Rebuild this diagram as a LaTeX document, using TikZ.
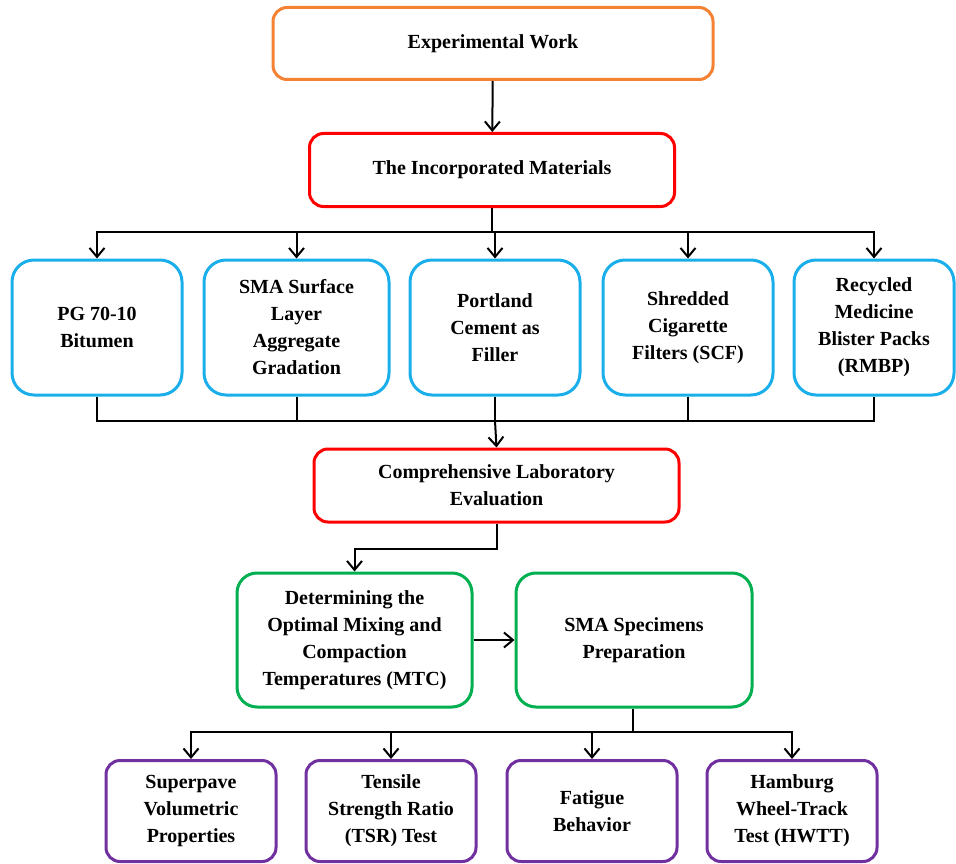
\documentclass[tikz,border=0pt]{standalone}
\usepackage{fontspec}
\setmainfont{Liberation Serif}
\usetikzlibrary{arrows.meta}
\definecolor{wOrange}{HTML}{F58232}
\definecolor{wRed}{HTML}{FF0000}
\definecolor{wBlue}{HTML}{1AAFEA}
\definecolor{wGreen}{HTML}{00B050}
\definecolor{wPurple}{HTML}{7030A0}
\tikzset{
  >={Straight Barb[length=9pt,width=15pt,line width=2pt]},
  block/.style={rectangle, rounded corners=14pt, draw, line width=3pt, align=center,
    inner sep=2pt, font=\fontsize{20}{27}\selectfont\bfseries},
  topbox/.style={block, draw=wOrange, minimum width=440pt, minimum height=72pt},
  redbox/.style={block, draw=wRed, minimum height=73pt},
  bluebox/.style={block, draw=wBlue, rounded corners=22pt, minimum width=170pt, minimum height=135pt},
  greenbox/.style={block, draw=wGreen, rounded corners=20pt, minimum height=134pt},
  purplebox/.style={block, draw=wPurple, minimum width=170pt, minimum height=101pt},
  link/.style={line width=2pt},
}
\begin{document}
\begin{tikzpicture}[x=1pt, y=-1pt]
  \useasboundingbox (0,0) rectangle (956,864);
  \node[topbox] (work) at (493,43.5) {Experimental Work};
  \node[redbox, minimum width=365pt] (mats) at (492,170) {The Incorporated Materials};
  % materials
  \node[bluebox] (pg) at (97,327.5) {PG 70-10\\Bitumen};
  \node[bluebox, minimum width=185pt] (sma) at (296.5,327.5) {SMA Surface\\Layer\\Aggregate\\Gradation};
  \node[bluebox] (cem) at (495,327.5) {Portland\\Cement as\\Filler};
  \node[bluebox] (scf) at (688,327.5) {Shredded\\Cigarette\\Filters (SCF)};
  \node[bluebox, minimum width=160pt] (rmbp) at (874,327.5) {Recycled\\Medicine\\Blister Packs\\(RMBP)};
  \node[redbox, minimum width=365pt] (lab) at (496.5,485.5) {Comprehensive Laboratory\\Evaluation};
  \node[greenbox, minimum width=235pt] (mtc) at (354.5,640) {Determining the\\Optimal Mixing and\\Compaction\\Temperatures (MTC)};
  \node[greenbox, minimum width=236pt] (prep) at (634,640) {SMA Specimens\\Preparation};
  % tests
  \node[purplebox] (vol) at (191,811) {Superpave\\Volumetric\\Properties};
  \node[purplebox] (tsr) at (391,811) {Tensile\\Strength Ratio\\(TSR) Test};
  \node[purplebox] (fat) at (592,811) {Fatigue\\Behavior};
  \node[purplebox] (hwtt) at (792,811) {Hamburg\\Wheel-Track\\Test (HWTT)};
  \coordinate (busA) at (492,232);
  \coordinate (busB) at (495,421);
  \coordinate (busC) at (633,732);
  \draw[link, ->] (work) -- (mats);
  \draw[link] (mats) -- (busA);
  \foreach \m in {pg,sma,cem,scf,rmbp} {
    \draw[link, ->] (busA) -| (\m.north);
    \draw[link] (\m.south) |- (busB);
  }
  \draw[link, ->] (busB) -- (lab.north);
  \draw[link, ->] (lab.south) -- ++(0,25) -| (mtc.north);
  \draw[link, ->] (mtc) -- (prep);
  \draw[link] (prep.south -| busC) -- (busC);
  \foreach \t in {vol,tsr,fat,hwtt}
    \draw[link, ->] (busC) -| (\t.north);
\end{tikzpicture}
\end{document}
